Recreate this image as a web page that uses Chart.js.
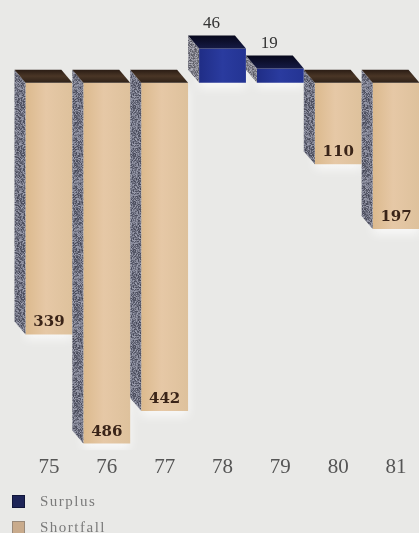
<!DOCTYPE html>
<html>
<head>
<meta charset="utf-8">
<script src="https://cdn.jsdelivr.net/npm/chart.js@4/dist/chart.umd.min.js"></script>
<style>
  html, body { margin: 0; padding: 0; background: #e9e9e7; }
  #wrap { position: relative; width: 419px; height: 533px; overflow: hidden; background: #e9e9e7; }
  #chart { position: absolute; left: 0; top: 0; }
  #legend { position: absolute; left: 12px; top: 488px; font-family: "Liberation Serif", serif;
            font-size: 15px; color: #7a7a7a; letter-spacing: 1.5px; }
  .item { display: flex; align-items: center; height: 26px; }
  .box { width: 13px; height: 13px; margin-right: 15px; box-sizing: border-box; }
</style>
</head>
<body>
<div id="wrap">
  <canvas id="chart" width="425" height="533"></canvas>
  <div id="legend"></div>
</div>
<script>
// Fiscal years and the yearly balance: surplus above the line, shortfall below it
const years = ['75', '76', '77', '78', '79', '80', '81'];
const surplus = [null, null, null, 46, 19, null, null];
const shortfall = [339, 486, 442, null, null, 110, 197];

const DEPTH_X = 11, DEPTH_Y = 13;

// deterministic grey speckle used on the bar side faces
function speckle(base, spread) {
  const c = document.createElement('canvas');
  c.width = c.height = 48;
  const g = c.getContext('2d');
  const img = g.createImageData(48, 48);
  let s = 12345;
  for (let i = 0; i < 48 * 48; i++) {
    s = (s * 1103515245 + 12345) & 0x7fffffff;
    const n = ((s >> 8) % 1000) / 1000 - 0.5;
    img.data[i * 4] = base[0] + n * spread;
    img.data[i * 4 + 1] = base[1] + n * spread;
    img.data[i * 4 + 2] = base[2] + n * spread;
    img.data[i * 4 + 3] = 255;
  }
  g.putImageData(img, 0, 0);
  return c;
}
const sideTile = speckle([112, 114, 130], 90);
const sideTileLight = speckle([132, 132, 142], 90);

function frontGradient(c, fallback, stops) {
  const xs = c.chart.scales.x;
  if (!xs || c.type !== 'data') return fallback;
  const cx = xs.getPixelForValue(c.dataIndex);
  const w = xs.width / years.length;
  if (!isFinite(cx) || !isFinite(w) || w <= 0) return fallback;
  const g = c.chart.ctx.createLinearGradient(cx - w / 2, 0, cx + w / 2, 0);
  stops.forEach(([o, col]) => g.addColorStop(o, col));
  return g;
}
const tanFront = (c) => frontGradient(c, '#e0c39b',
  [[0, '#d9b687'], [0.45, '#e6c8a6'], [1, '#dcc09a']]);
const blueFront = (c) => frontGradient(c, '#26359a',
  [[0, '#1d2a80'], [0.5, '#2a3b9f'], [1, '#223290']]);

// soft light halo under the bar fronts
const glow = {
  id: 'glow',
  beforeDatasetsDraw(chart) {
    const ctx = chart.ctx;
    ctx.save();
    ctx.shadowColor = 'rgba(255,255,255,0.75)';
    ctx.shadowBlur = 10;
    ctx.shadowOffsetY = 5;
  },
  afterDatasetsDraw(chart) {
    chart.ctx.restore();
  }
};

// side and top faces giving the bars their depth
const depth = {
  id: 'depth',
  afterDatasetsDraw(chart) {
    const ctx = chart.ctx;
    const sidePat = ctx.createPattern(sideTile, 'repeat');
    const sidePatLight = ctx.createPattern(sideTileLight, 'repeat');
    const items = [];
    chart.data.datasets.forEach((ds, di) => {
      chart.getDatasetMeta(di).data.forEach((bar, i) => {
        if (ds.data[i] == null) return;
        items.push({ bar, i, di });
      });
    });
    items.sort((a, b) => a.i - b.i);
    items.forEach(({ bar, di }) => {
      const { x, y, base, width } = bar.getProps(['x', 'y', 'base', 'width'], true);
      const x0 = x - width / 2, x1 = x + width / 2;
      const top = Math.min(y, base), bot = Math.max(y, base);
      const up = di === 0;
      // left side
      ctx.fillStyle = up ? sidePatLight : sidePat;
      ctx.beginPath();
      ctx.moveTo(x0, top);
      ctx.lineTo(x0 - DEPTH_X, top - DEPTH_Y);
      ctx.lineTo(x0 - DEPTH_X, bot - DEPTH_Y);
      ctx.lineTo(x0, bot);
      ctx.closePath();
      ctx.fill();
      // top
      const g = ctx.createLinearGradient(0, top - DEPTH_Y, 0, top);
      if (up) {
        g.addColorStop(0, '#07081c');
        g.addColorStop(1, '#151a44');
      } else {
        g.addColorStop(0, '#2a1c14');
        g.addColorStop(0.5, '#4a3626');
        g.addColorStop(1, '#2e2118');
      }
      ctx.fillStyle = g;
      ctx.beginPath();
      ctx.moveTo(x0, top);
      ctx.lineTo(x1, top);
      ctx.lineTo(x1 - DEPTH_X, top - DEPTH_Y);
      ctx.lineTo(x0 - DEPTH_X, top - DEPTH_Y);
      ctx.closePath();
      ctx.fill();
    });
  }
};

// value labels: above surplus bars, inside the foot of shortfall bars
const values = {
  id: 'values',
  afterDatasetsDraw(chart) {
    const ctx = chart.ctx;
    ctx.save();
    ctx.textAlign = 'center';
    ctx.textBaseline = 'middle';
    chart.data.datasets.forEach((ds, di) => {
      chart.getDatasetMeta(di).data.forEach((bar, i) => {
        const v = ds.data[i];
        if (v == null) return;
        const { x, y, base } = bar.getProps(['x', 'y', 'base'], true);
        if (di === 0) {
          ctx.font = '17px "Liberation Serif", serif';
          ctx.fillStyle = '#333333';
          ctx.fillText(String(surplus[i]), x - DEPTH_X, Math.min(y, base) - DEPTH_Y - 12);
        } else {
          ctx.font = 'bold 15px "DejaVu Serif", serif';
          ctx.fillStyle = '#3a2418';
          ctx.fillText(String(shortfall[i]), x, Math.max(y, base) - 12);
        }
      });
    });
    ctx.restore();
  }
};

const chart = new Chart(document.getElementById('chart'), {
  type: 'bar',
  data: {
    labels: years,
    datasets: [
      { label: 'Surplus', data: surplus, backgroundColor: blueFront, legendColor: '#1e2558' },
      { label: 'Shortfall', data: shortfall.map(v => v == null ? null : -v),
        backgroundColor: tanFront, legendColor: '#c9ab8c' }
    ]
  },
  options: {
    responsive: false,
    animation: false,
    layout: { padding: { left: 20, right: 0, top: 24, bottom: 47.5 } },
    datasets: { bar: { categoryPercentage: 1, barPercentage: 0.81, grouped: false, borderWidth: 0 } },
    plugins: { legend: { display: false }, tooltip: { enabled: false } },
    scales: {
      x: {
        grid: { display: false, drawTicks: false },
        border: { display: false },
        ticks: { color: '#555555', padding: 5, font: { family: '"Liberation Serif", serif', size: 21 } }
      },
      y: { display: false, min: -495, max: 79 }
    }
  },
  plugins: [glow, depth, values]
});

// legend list built from the dataset labels
const legend = document.getElementById('legend');
chart.data.datasets.forEach((ds) => {
  const row = document.createElement('div');
  row.className = 'item';
  const box = document.createElement('div');
  box.className = 'box';
  box.style.background = ds.legendColor;
  box.style.border = '1px solid ' + (ds.label === 'Surplus' ? '#11163a' : '#9a8a7a');
  const txt = document.createElement('span');
  txt.textContent = ds.label;
  row.appendChild(box);
  row.appendChild(txt);
  legend.appendChild(row);
});
</script>
</body>
</html>
